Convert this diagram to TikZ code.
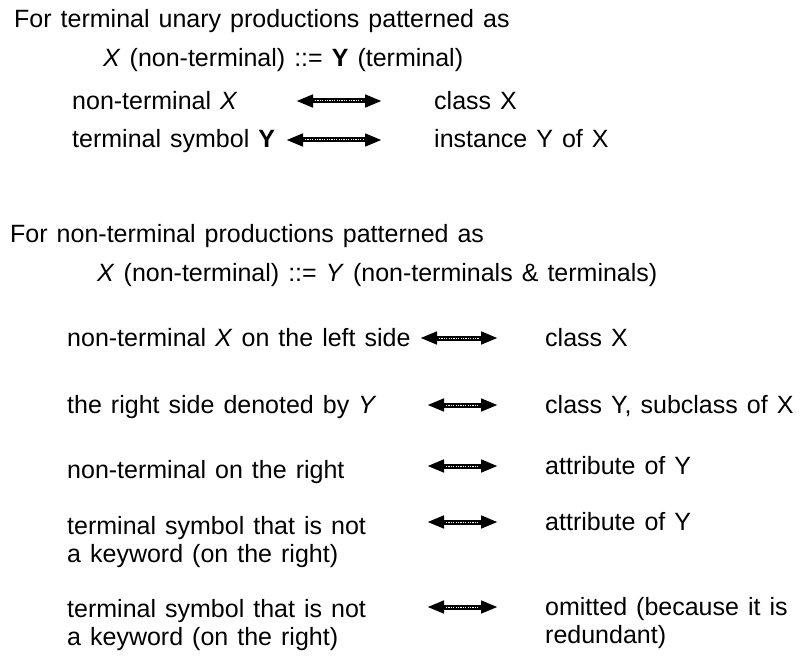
\documentclass[tikz,border=0pt]{standalone}
\usepackage{fontspec}
\setmainfont{Liberation Sans}[WordSpace=1.3]
\usetikzlibrary{arrows.meta,calc}
\tikzset{
  txt/.style={anchor=base west, inner sep=0pt, font=\fontsize{25pt}{28pt}\selectfont},
  ml/.style={txt, align=left},
  biarrow/.style={line width=5pt, {Triangle[length=17pt,width=12pt]}-{Triangle[length=17pt,width=12pt]}},
  core/.style={white, line width=1pt, dash pattern=on 1.2pt off 1.2pt},
}
% double-headed correspondence arrow with a dotted core
\newcommand{\corr}[2]{%
  \draw[biarrow] (#1) -- (#2);
  \draw[core] ($(#1)+(19pt,0)$) -- ($(#2)+(-19pt,0)$);}
\begin{document}
\begin{tikzpicture}[x=1pt,y=-1pt]
\useasboundingbox[fill=white] (0,0) rectangle (803,658);

% first block: terminal unary productions
\node[txt] (h1) at (14,28) {For terminal unary productions patterned as};
\node[txt] (p1) at (103,67) {\textit{X} (non-terminal) ::= \textbf{Y} (terminal)};
\node[txt] (l1) at (72,110) {non-terminal \textit{X}};
\node[txt] (r1) at (434,110) {class X};
\node[txt] (l2) at (72,148) {terminal symbol \textbf{Y}};
\node[txt] (r2) at (434,148) {instance Y of X};
\coordinate (a1l) at (296,101); \coordinate (a1r) at (382,101);
\coordinate (a2l) at (286,140); \coordinate (a2r) at (382,140);
\corr{a1l}{a1r}
\corr{a2l}{a2r}

% second block: non-terminal productions
\node[txt] (h2) at (10,242) {For non-terminal productions patterned as};
\node[txt] (p2) at (97,281) {\textit{X} (non-terminal) ::= \textit{Y} (non-terminals \& terminals)};
\node[txt] (l3) at (67,346) {non-terminal \textit{X} on the left side};
\node[txt] (r3) at (545,346) {class X};
\node[txt] (l4) at (67,413) {the right side denoted by \textit{Y}};
\node[txt] (r4) at (545,413) {class Y, subclass of X};
\node[txt] (l5) at (67,478) {non-terminal on the right};
\node[txt] (r5) at (545,474) {attribute of Y};
\node[ml] (l6) at (67,562) {terminal symbol that is not\\a keyword (on the right)};
\node[txt] (r6) at (545,530) {attribute of Y};
\node[ml] (l7) at (67,645) {terminal symbol that is not\\a keyword (on the right)};
\node[ml] (r7) at (545,643) {omitted (because it is\\redundant)};
\coordinate (a3l) at (420,338); \coordinate (a3r) at (498,338);
\coordinate (a4l) at (427,405); \coordinate (a4r) at (498,405);
\coordinate (a5l) at (427,466); \coordinate (a5r) at (498,466);
\coordinate (a6l) at (427,522); \coordinate (a6r) at (498,522);
\coordinate (a7l) at (427,607); \coordinate (a7r) at (498,607);
\corr{a3l}{a3r}
\corr{a4l}{a4r}
\corr{a5l}{a5r}
\corr{a6l}{a6r}
\corr{a7l}{a7r}
\end{tikzpicture}
\end{document}
